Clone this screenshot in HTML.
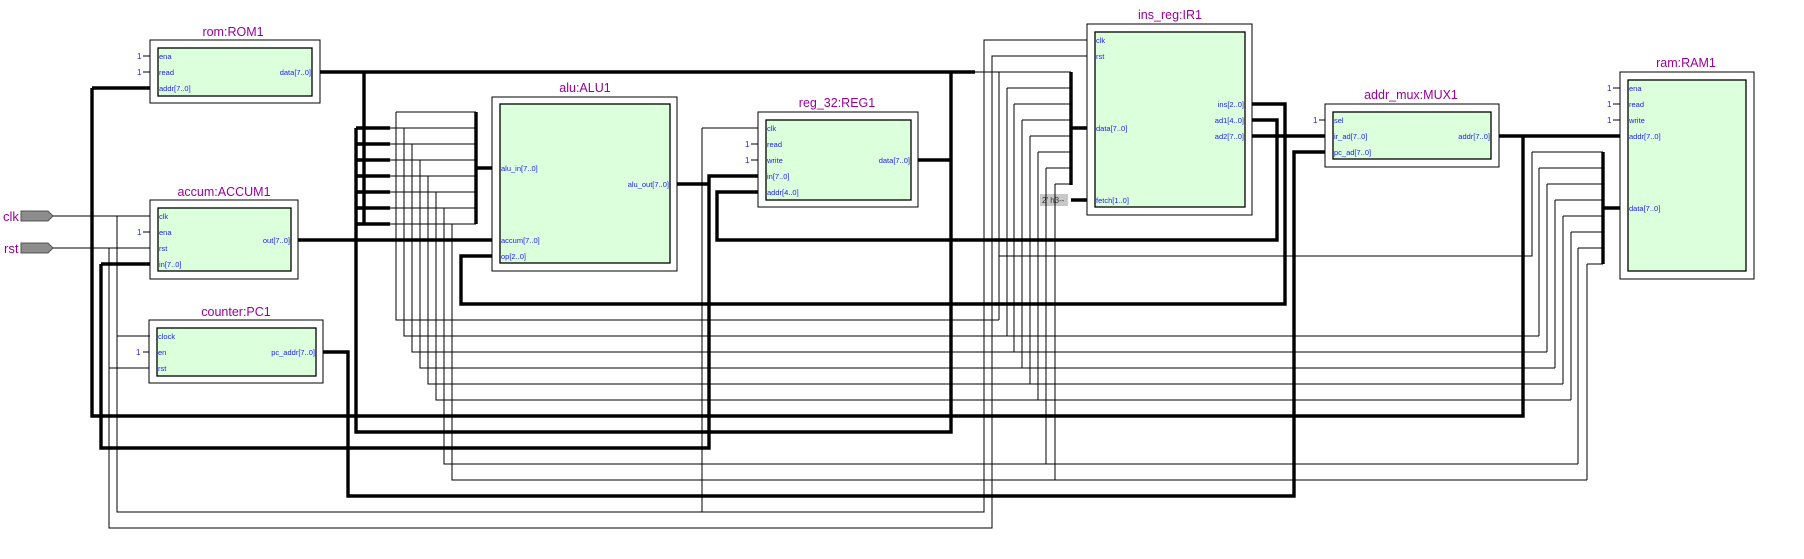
<!DOCTYPE html>
<html><head><meta charset="utf-8"><style>
html,body{margin:0;padding:0;background:#fff;}
svg{display:block}
.t{stroke:#000;stroke-width:1;fill:none}
.k{stroke:#000;stroke-width:3.4;fill:none}
.p{font-family:"Liberation Sans",sans-serif;font-size:7.5px;fill:#2020ff}
.c{font-family:"Liberation Sans",sans-serif;font-size:8px;fill:#2020ff}
.ti{font-family:"Liberation Sans",sans-serif;font-size:12.5px;fill:#990099;text-anchor:middle}
.ob{fill:#fff;stroke:#000;stroke-width:1}
.ib{fill:#dcffdc;stroke:#000;stroke-width:1.3}
</style></head><body>
<svg width="1804" height="559" viewBox="0 0 1804 559" xmlns="http://www.w3.org/2000/svg">
<!-- boxes -->
<rect class="ob" x="150" y="40" width="170" height="63"/><rect class="ib" x="158" y="48" width="154" height="48"/>
<text class="ti" x="233" y="36">rom:ROM1</text>
<text class="p" x="159" y="59">ena</text><text class="p" x="159" y="75">read</text><text class="p" x="159" y="91">addr[7..0]</text>
<text class="p" x="311" y="75" text-anchor="end">data[7..0]</text>

<rect class="ob" x="150" y="200" width="148" height="79"/><rect class="ib" x="158" y="208" width="133" height="63"/>
<text class="ti" x="224" y="196">accum:ACCUM1</text>
<text class="p" x="159" y="219">clk</text><text class="p" x="159" y="235">ena</text><text class="p" x="159" y="251">rst</text><text class="p" x="159" y="267">in[7..0]</text>
<text class="p" x="290" y="243" text-anchor="end">out[7..0]</text>

<rect class="ob" x="149" y="320" width="174" height="63"/><rect class="ib" x="157" y="328" width="159" height="48"/>
<text class="ti" x="236" y="316">counter:PC1</text>
<text class="p" x="158" y="339">clock</text><text class="p" x="158" y="355">en</text><text class="p" x="158" y="371">rst</text>
<text class="p" x="315" y="355" text-anchor="end">pc_addr[7..0]</text>

<rect class="ob" x="492" y="97" width="185" height="174"/><rect class="ib" x="500" y="104" width="170" height="159"/>
<text class="ti" x="585" y="92">alu:ALU1</text>
<text class="p" x="501" y="171">alu_in[7..0]</text><text class="p" x="501" y="243">accum[7..0]</text><text class="p" x="501" y="259">op[2..0]</text>
<text class="p" x="669" y="187" text-anchor="end">alu_out[7..0]</text>

<rect class="ob" x="758" y="112" width="160" height="95"/><rect class="ib" x="766" y="120" width="145" height="80"/>
<text class="ti" x="837" y="107">reg_32:REG1</text>
<text class="p" x="767" y="131">clk</text><text class="p" x="767" y="147">read</text><text class="p" x="767" y="163">write</text><text class="p" x="767" y="179">in[7..0]</text><text class="p" x="767" y="195">addr[4..0]</text>
<text class="p" x="910" y="163" text-anchor="end">data[7..0]</text>

<rect class="ob" x="1087" y="24" width="165" height="191"/><rect class="ib" x="1095" y="32" width="150" height="175"/>
<text class="ti" x="1170" y="19">ins_reg:IR1</text>
<text class="p" x="1096" y="43">clk</text><text class="p" x="1096" y="59">rst</text><text class="p" x="1096" y="131">data[7..0]</text><text class="p" x="1096" y="203">fetch[1..0]</text>
<text class="p" x="1244" y="107" text-anchor="end">ins[2..0]</text><text class="p" x="1244" y="123" text-anchor="end">ad1[4..0]</text><text class="p" x="1244" y="139" text-anchor="end">ad2[7..0]</text>

<rect class="ob" x="1325" y="104" width="174" height="63"/><rect class="ib" x="1333" y="112" width="158" height="47"/>
<text class="ti" x="1411" y="99">addr_mux:MUX1</text>
<text class="p" x="1334" y="123">sel</text><text class="p" x="1334" y="139">ir_ad[7..0]</text><text class="p" x="1334" y="155">pc_ad[7..0]</text>
<text class="p" x="1490" y="139" text-anchor="end">addr[7..0]</text>

<rect class="ob" x="1620" y="72" width="134" height="207"/><rect class="ib" x="1628" y="80" width="118" height="191"/>
<text class="ti" x="1686" y="67">ram:RAM1</text>
<text class="p" x="1629" y="91">ena</text><text class="p" x="1629" y="107">read</text><text class="p" x="1629" y="123">write</text><text class="p" x="1629" y="139">addr[7..0]</text><text class="p" x="1629" y="211">data[7..0]</text>

<!-- constants "1-" -->
<g class="t">
<path d="M143 56H150M143 72H150M143 232H150M143 352H149M1319 120H1325M1613 88H1620M1613 104H1620M1613 120H1620M751 144H758M751 160H758"/>
</g>
<g class="c">
<text x="137" y="59">1</text><text x="137" y="75">1</text><text x="137" y="235">1</text><text x="136" y="355">1</text>
<text x="1313" y="123">1</text><text x="1607" y="91">1</text><text x="1607" y="107">1</text><text x="1607" y="123">1</text>
<text x="745" y="147">1</text><text x="745" y="163">1</text>
</g>
<rect x="1040" y="194" width="28" height="12" fill="#c8c8c8"/>
<text x="1042" y="203" style="font-family:'Liberation Sans',sans-serif;font-size:8px;fill:#333">2' h3--</text>

<!-- pins -->
<polygon points="21,211 48,211 53,216 48,221 21,221" fill="#8c8c8c" stroke="#555"/>
<polygon points="21,243 48,243 53,248 48,253 21,253" fill="#8c8c8c" stroke="#555"/>
<text x="3" y="221" style="font-family:'Liberation Sans',sans-serif;font-size:13px;fill:#990099">clk</text>
<text x="4" y="253" style="font-family:'Liberation Sans',sans-serif;font-size:13px;fill:#990099">rst</text>

<!-- thin wires -->
<g class="t">
<path d="M53 216H150M53 248H150"/>
<path d="M117 216V512H984V40H1087M117 336H150"/>
<path d="M109 248V528H992V56H1087M109 368H149"/>
<path d="M702 128H758M702 128V512"/>
<!-- ALU input bus thin -->
<path d="M396 112H476M388 128H476M388 144H476M388 160H476M388 176H476M388 192H476M388 208H476M388 224H476"/>
<path d="M396 112V320H999M404 128V336H1539M412 144V352H1547M420 160V368H1555M428 176V384H1563M436 192V400H1571M444 208V464H1578M452 224V480H1587"/>
<!-- IR data bus thin -->
<path d="M975 72H1071M1007 88H1071M1014 104H1071M1022 120H1071M1030 136H1071M1038 152H1071M1046 168H1071M1055 184H1071"/>
<path d="M999 72V320M1007 88V336M1014 104V352M1022 120V368M1030 136V384M1038 152V400M1046 168V464M1055 184V480"/>
<!-- RAM data bus thin -->
<path d="M1532 152H1603M1539 168H1603M1547 184H1603M1555 200H1603M1563 216H1603M1571 232H1603M1578 248H1603M1587 264H1603"/>
<path d="M1532 152V256H999M1539 168V336M1547 184V352M1555 200V368M1563 216V384M1571 232V400M1578 248V464M1587 264V480"/>
</g>

<!-- thick wires -->
<g class="k">
<path d="M320 72H975"/>
<path d="M364 72V224M356 128V432H951V72"/>
<path d="M356 128H390M356 144H390M356 160H390M356 176H390M356 192H390M356 208H390M356 224H390"/>
<path d="M476 112V224M476 168H492"/>
<path d="M298 240H492"/>
<path d="M492 256H461V304H1285V104H1252"/>
<path d="M92 88H150M92 88V416H1523V136"/>
<path d="M101 264H150M101 264V448H709V176H758M677 184H709"/>
<path d="M323 352H348V496H1294V152H1325"/>
<path d="M918 160H951"/>
<path d="M758 192H717V240H1277V120H1252"/>
<path d="M1252 136H1325"/>
<path d="M1499 136H1620"/>
<path d="M1071 72V185M1071 128H1087M1071 200H1087"/>
<path d="M1603 152V264M1603 208H1620"/>
</g>
</svg>
</body></html>
